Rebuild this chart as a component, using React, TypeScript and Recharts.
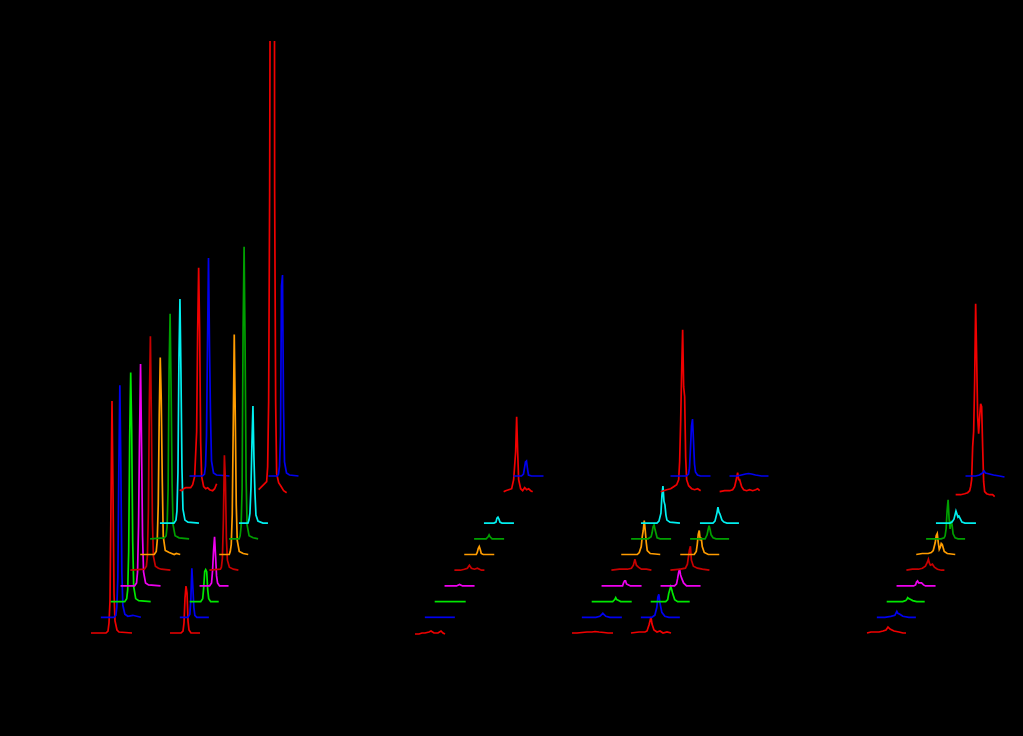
import { LineChart, Line, XAxis, YAxis } from "recharts";

type Trace = number[][];

// waterfall offsets
const ROW_DX = 9.85;
const ROW_DY = 15.7;
const BASE_Y = 103;
const rows = [0, 1, 2, 3, 4, 5, 6, 7, 9, 10];
const rowColors = ["#f00000", "#0000f0", "#00e800", "#f000f0", "#c80000", "#ff9c00", "#00a000", "#00f0f0", "#f00000", "#0000f0"];

// each trace is [offset, intensity]
const stackA: Trace[] = [
  [[0, 0], [15, 0], [17, 2], [18, 10], [19, 32], [20, 130], [21, 232], [22, 140], [23, 40], [24, 12], [26, 3], [28, 1], [41, 0]],
  [[0, 0], [13, 0], [15, 2], [16, 10], [17, 40], [18, 150], [19, 232], [20, 150], [21, 45], [22, 12], [24, 3], [27, 1], [32, 2], [40, 0]],
  [[0, 0], [14, 0], [16, 3], [17, 12], [18, 50], [19, 165], [20, 229], [21, 170], [22, 60], [23, 15], [25, 3], [28, 1], [40, 0]],
  [[0, 0], [14, 0], [16, 3], [17, 14], [18, 60], [19, 150], [20, 222], [21, 140], [22, 50], [23, 14], [25, 3], [28, 1], [40, 0]],
  [[0, 0], [14, 1], [16, 4], [17, 14], [18, 60], [19, 170], [20, 234], [21, 150], [22, 50], [23, 14], [25, 4], [28, 2], [31, 1], [40, 0]],
  [[0, 0], [14, 0], [16, 3], [17, 14], [18, 50], [19, 140], [20, 197], [21, 155], [22, 75], [23, 18], [25, 4], [29, 2], [34, 0], [36, 1], [40, 0]],
  [[0, 0], [14, 1], [16, 3], [17, 12], [18, 50], [19, 170], [20, 225], [21, 150], [22, 55], [23, 14], [25, 3], [29, 1], [39, 0]],
  [[0, 0], [14, 0], [16, 3], [17, 12], [18, 50], [19, 165], [20, 224], [21, 150], [22, 55], [23, 14], [25, 3], [28, 1], [39, 0]],
  [[0, 2], [2, 1], [4, 3], [6, 4], [8, 4], [11, 4], [13, 7], [15, 15], [17, 60], [18, 160], [19, 224], [20, 160], [21, 50], [22, 15], [24, 5], [26, 3], [28, 4], [30, 2], [33, 1], [35, 3], [37, 8]],
  [[0, 0], [13, 0], [15, 2], [16, 10], [17, 40], [18, 130], [19, 218], [20, 130], [21, 60], [22, 15], [24, 3], [27, 1], [40, 0]],
];

const stackB: Trace[] = [
  [[0, 0], [11, 0], [13, 2], [14, 10], [15, 35], [16, 47], [17, 40], [18, 12], [19, 3], [21, 0], [30, 0]],
  [[0, 0], [8, 0], [10, 3], [11, 18], [12, 49], [13, 30], [14, 10], [15, 2], [17, 0], [29, 0]],
  [[0, 0], [11, 0], [13, 3], [14, 14], [15, 30], [16, 32], [17, 30], [18, 12], [19, 3], [21, 0], [29, 0]],
  [[0, 0], [10, 0], [12, 3], [13, 15], [14, 35], [15, 49], [16, 30], [17, 10], [18, 3], [20, 0], [29, 0]],
  [[0, 0], [11, 1], [12, 3], [13, 12], [14, 50], [15, 115], [16, 90], [17, 32], [18, 10], [20, 3], [24, 1], [29, 0]],
  [[0, 0], [10, 0], [11, 3], [12, 10], [13, 40], [14, 130], [15, 220], [16, 140], [17, 50], [18, 14], [20, 3], [24, 1], [29, 0]],
  [[0, 0], [10, 0], [11, 3], [12, 12], [13, 50], [14, 210], [15, 292], [16, 190], [17, 60], [18, 14], [20, 3], [24, 1], [29, 0]],
  [[0, 0], [9, 0], [10, 3], [11, 10], [12, 35], [13, 80], [14, 117], [15, 65], [16, 30], [17, 8], [19, 2], [24, 0], [29, 0]],
  [[0, 2], [2, 4], [4, 6], [6, 8], [8, 10], [9, 25], [10, 90], [11, 300], [12, 700], [15.6, 700], [16, 300], [17, 90], [18, 18], [20, 9], [22, 6], [25, 1], [28, -1]],
  [[0, 0], [9, 0], [10, 2], [11, 10], [12, 40], [13, 190], [14, 201], [15, 70], [16, 14], [18, 3], [21, 1], [30, 0]],
];

const stackC: Trace[] = [
  [[0, -1], [4, -1], [7, 0], [10, 0], [14, 1], [16, 2], [19, 0], [23, 0], [26, 2], [28, 0], [30, -1]],
  [[0, 0], [30, 0]],
  [[0, 0], [31, 0]],
  [[0, 0], [12, 0], [15, 1.5], [18, 0], [30, 0]],
  [[0, 0], [6, 0], [10, 1], [13, 2], [15, 5], [17, 2], [20, 1], [23, 2], [27, 0], [30, 0]],
  [[0, 0], [12, 0], [13, 2], [14, 6], [15, 8], [16, 5], [17, 1], [19, 0], [30, 0]],
  [[0, 0], [12, 0], [14, 2], [15, 4], [16, 2], [18, 0], [30, 0]],
  [[0, 0], [10, 0], [12, 1], [13, 5], [14, 6], [15, 4], [16, 1], [18, 0], [30, 0]],
  [[0, 0], [2, 1], [5, 2], [8, 3], [10, 12], [12, 40], [13, 75], [14, 40], [15, 12], [17, 3], [19, 1], [21, 4], [23, 2], [25, 3], [27, 1], [29, 0]],
  [[0, 0], [8, 0], [10, 2], [11, 8], [12, 14], [13, 15], [14, 7], [15, 1], [18, 0], [30, 0]],
];

const stackD: Trace[] = [
  [[0, 0], [5, 0], [10, 0.5], [15, 1], [20, 1], [23, 1.5], [27, 1], [32, 0.5], [36, 0], [41, 0]],
  [[0, 0], [14, 0], [18, 1], [20, 3], [21, 4], [22, 3], [24, 1], [28, 0], [40, 0]],
  [[0, 0], [21, 0], [23, 2], [24, 4], [25, 2], [27, 1], [29, 0], [40, 0]],
  [[0, 0], [21, 0], [22, 3], [23, 5], [24, 5], [25, 2], [27, 1], [29, 0], [40, 0]],
  [[0, 0], [8, 1], [16, 1], [20, 2], [22, 5], [23.5, 11], [25, 5], [27, 3], [30, 1], [35, 1], [40, 0]],
  [[0, 0], [16, 0], [18, 2], [20, 8], [21, 18], [22, 24], [23, 34], [24, 24], [25, 12], [26, 4], [29, 1], [39, 0]],
  [[0, 0], [17, 0], [20, 2], [21, 6], [22, 12], [23, 14], [24, 9], [25, 5], [26, 1], [29, 0], [40, 0]],
  [[0, 0], [16, 0], [18, 2], [20, 10], [21, 28], [22, 37], [23, 22], [24, 18], [25, 8], [26, 3], [29, 1], [39, 0]],
  [[0, 0], [3, 1], [6, 2], [10, 3], [13, 5], [16, 7], [18, 12], [19, 30], [20, 70], [21, 120], [22, 162], [23, 105], [24, 95], [25, 35], [26, 12], [28, 6], [31, 3], [34, 2], [37, 3], [40, 1]],
  [[0, 0], [16, 0], [18, 2], [19, 8], [20, 28], [21, 50], [22, 57], [23, 35], [24, 12], [25, 4], [27, 1], [30, 0], [40, 0]],
];

const stackE: Trace[] = [
  [[0, 0], [8, 1], [14, 1], [16, 2], [18, 8], [20, 16], [21, 9], [23, 3], [26, 1], [29, 2], [32, 0], [36, 1], [40, 0]],
  [[0, 0], [11, 0], [14, 2], [16, 10], [17, 20], [18, 23], [19, 15], [21, 5], [24, 1], [28, 0], [39, 0]],
  [[0, 0], [15, 0], [17, 2], [18, 8], [20, 15], [21, 12], [22, 8], [24, 2], [27, 0], [39, 0]],
  [[0, 0], [14, 0], [16, 2], [17, 7], [18, 13], [19, 17], [20, 11], [21, 8], [23, 3], [26, 0], [40, 0]],
  [[0, 0], [10, 1], [15, 2], [17, 6], [19, 20], [20, 24], [21, 10], [23, 4], [27, 2], [32, 1], [39, 0]],
  [[0, 0], [14, 0], [16, 3], [17, 10], [18, 20], [19, 24], [20, 14], [21, 17], [22, 8], [24, 2], [28, 0], [39, 0]],
  [[0, 0], [15, 0], [17, 4], [18, 9], [19, 13], [20, 9], [21, 4], [23, 1], [26, 0], [39, 0]],
  [[0, 0], [13, 0], [15, 2], [17, 10], [18, 16], [19, 11], [20, 9], [22, 3], [24, 1], [27, 0], [39, 0]],
  [[0, 0], [5, 1], [10, 1], [13, 2], [15, 5], [17, 14], [18, 19], [19, 12], [20, 12], [22, 5], [24, 2], [27, 1], [30, 2], [33, 1], [36, 2], [38, 3], [40, 1]],
  [[0, 0], [8, 0], [12, 1], [16, 2], [19, 2.5], [22, 2], [26, 1], [32, 0], [39, 0]],
];

const stackF: Trace[] = [
  [[0, 0], [4, 1], [8, 1], [12, 1], [16, 2], [19, 3], [21, 6], [23, 4], [27, 2], [32, 1], [36, 0], [39, 0]],
  [[0, 0], [8, 0], [14, 1], [18, 2], [19, 4], [20, 6], [21, 4], [23, 3], [26, 1], [32, 0], [39, 0]],
  [[0, 0], [16, 0], [19, 1], [20, 2], [21, 4], [22, 3], [24, 2], [26, 1], [30, 0], [38, 0]],
  [[0, 0], [17, 0], [19, 1], [20, 4], [21, 5], [22, 3], [24, 3], [25, 3], [27, 1], [29, 0], [39, 0]],
  [[0, 0], [6, 1], [12, 1], [16, 2], [19, 4], [21, 8], [22, 11], [23, 7], [24, 5], [26, 6], [28, 3], [31, 1], [35, 0], [38, 0]],
  [[0, 0], [6, 1], [12, 1], [15, 2], [17, 4], [19, 12], [20, 19], [21, 21], [22, 12], [23, 5], [24, 7], [25, 11], [26, 10], [28, 3], [31, 1], [39, 0]],
  [[0, 0], [15, 0], [18, 1], [19, 3], [20, 10], [21, 28], [22, 39], [23, 20], [24, 10], [25, 18], [26, 14], [27, 5], [29, 1], [32, 0], [39, 0]],
  [[0, 0], [14, 0], [16, 1], [18, 4], [19, 8], [20, 12], [21, 9], [22, 6], [23, 7], [24, 5], [26, 1], [29, 0], [40, 0]],
  [[0, -3], [5, -3], [9, -2], [12, -1], [14, 1], [15, 5], [16, 12], [17, 45], [18, 60], [19, 110], [20, 188], [21, 135], [22, 75], [23, 58], [24, 75], [25, 88], [26, 85], [27, 45], [28, 10], [29, 0], [31, -2], [34, -3], [37, -3], [39, -5]],
  [[0, 0], [10, 0], [14, 1], [17, 3], [18.5, 5], [20, 3], [24, 2], [28, 1], [34, 0], [39, -1]],
];

const stackStarts = [91, 170, 415, 572, 631, 867];
const stacks = [stackA, stackB, stackC, stackD, stackE, stackF];

const traces = stacks.flatMap((stack, s) =>
  stack.map((points, i) => ({
    key: `${s}-${i}`,
    color: rowColors[i],
    data: points.map(([dx, h]) => ({
      x: stackStarts[s] + ROW_DX * rows[i] + dx,
      y: BASE_Y + ROW_DY * rows[i] + h,
    })),
  }))
);

export default function App() {
  return (
    <div style={{ position: "absolute", left: 0, top: 0, width: 1023, height: 736, background: "#000", overflow: "hidden" }}>
      <LineChart width={1023} height={736} margin={{ top: 41, right: 0, bottom: 0, left: 0 }}>
        <XAxis type="number" dataKey="x" domain={[0, 1023]} hide allowDataOverflow />
        <YAxis type="number" dataKey="y" domain={[0, 695]} hide allowDataOverflow />
        {traces.map((t) => (
          <Line
            key={t.key}
            data={t.data}
            dataKey="y"
            stroke={t.color}
            strokeWidth={1.7}
            dot={false}
            type="linear"
            isAnimationActive={false}
          />
        ))}
      </LineChart>
    </div>
  );
}
